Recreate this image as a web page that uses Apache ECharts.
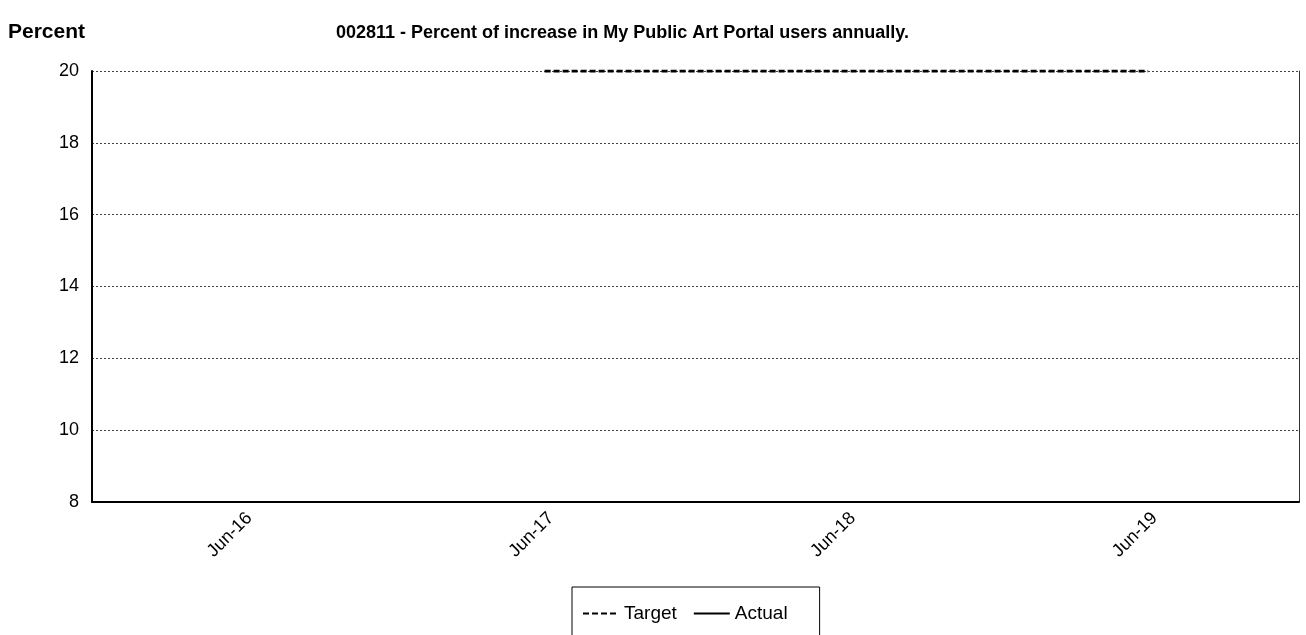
<!DOCTYPE html>
<html>
<head>
<meta charset="utf-8">
<script src="https://cdn.jsdelivr.net/npm/echarts@6/dist/echarts.min.js"></script>
<style>html,body{margin:0;padding:0;background:#fff}#c{width:1306px;height:635px}</style>
</head>
<body>
<div id="c"></div>
<script>
var categories = ['Jun-16', 'Jun-17', 'Jun-18', 'Jun-19'];
var targetValues = [null, 20, 20, 20];
var actualValues = [null, null, null, null];
var yTicks = { min: 8, max: 20, interval: 2 };
var titleText = '002811 - Percent of increase in My Public Art Portal users annually.';
var yName = 'Percent';

var chart = echarts.init(document.getElementById('c'));
var font = 'Arial, "Liberation Sans", sans-serif';
chart.setOption({
  animation: false,
  textStyle: { fontFamily: font },
  title: [
    { text: yName, left: 3, top: 17, textStyle: { fontSize: 21, fontWeight: 'bold', color: '#000', fontFamily: font } },
    { text: titleText, left: 331, top: 19, textStyle: { fontSize: 18, fontWeight: 'bold', color: '#000', fontFamily: font } }
  ],
  grid: { left: 92, right: 7, top: 71, bottom: 133, containLabel: false },
  legend: {
    left: 572, top: 587,
    padding: [17, 32, 40, 10],
    borderColor: '#000', borderWidth: 1,
    itemWidth: 36, itemHeight: 16, itemGap: 16,
    itemStyle: { opacity: 0 },
    textStyle: { fontSize: 19, color: '#000', fontFamily: font },
    data: ['Target', 'Actual']
  },
  xAxis: {
    type: 'category',
    data: categories,
    boundaryGap: true,
    axisLine: { lineStyle: { color: '#000', width: 2 } },
    axisTick: { show: false },
    axisLabel: { rotate: 45, fontSize: 18, color: '#000', margin: 7, verticalAlign: 'top', fontFamily: font },
    splitLine: { show: false }
  },
  yAxis: [{
    type: 'value',
    min: yTicks.min, max: yTicks.max, interval: yTicks.interval,
    axisLine: { show: true, lineStyle: { color: '#000', width: 2 } },
    axisTick: { show: false },
    axisLabel: { fontSize: 18, color: '#000', margin: 13, fontFamily: font },
    splitLine: { show: true, lineStyle: { color: '#444', width: 1, type: [2, 2] } }
  }, {
    type: 'value', position: 'right',
    min: yTicks.min, max: yTicks.max, interval: yTicks.interval,
    axisLine: { show: true, lineStyle: { color: '#333', width: 1 } },
    axisTick: { show: false }, axisLabel: { show: false }, splitLine: { show: false }
  }],
  series: [
    {
      name: 'Target', type: 'line', data: targetValues,
      symbol: 'none', showSymbol: false,
      lineStyle: { color: '#000', width: 3, type: [6, 3] },
      itemStyle: { color: '#000' }
    },
    {
      name: 'Actual', type: 'line', data: actualValues,
      symbol: 'none', showSymbol: false,
      lineStyle: { color: '#000', width: 4, type: 'solid' },
      itemStyle: { color: '#000' }
    }
  ]
});
</script>
</body>
</html>
